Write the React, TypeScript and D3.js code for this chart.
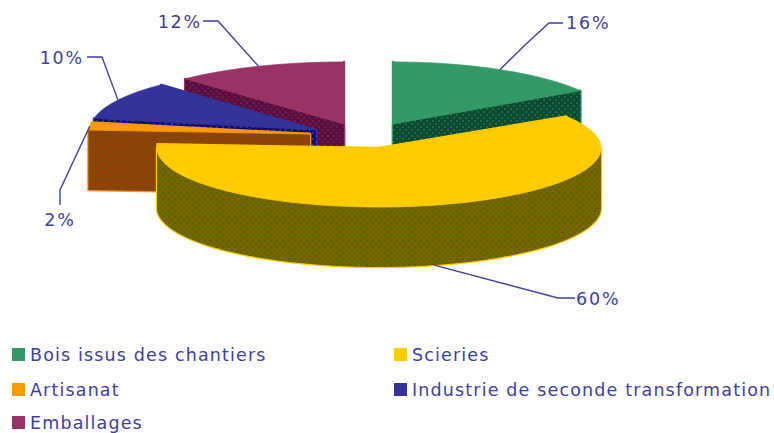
import React from "react";
import * as d3 from "d3";

// Share of each wood source, clockwise from twelve o'clock.
const categories = ["Bois issus des chantiers", "Scieries", "Artisanat", "Industrie de seconde transformation", "Emballages"];
const shares = [16, 60, 2, 10, 12];
const colors = ["#339966", "#ffcc00", "#ff9900", "#333399", "#993366"];
const wallBase = ["#0c4a30", "#7a6400", "#83470a", "#0c0c70", "#561040"];
const wallDots = ["#1f6a48", "#4f6800", "#a83a08", "#2e2ea0", "#7c1650"];

// Exploded position of each wedge's tip, and its horizontal radius.
const tipX = [393, 379, 310, 316, 344];
const tipY = [124, 148, 134, 130, 124];
const radiusX = [222, 222, 222, 226, 232];
const radiusY = [62, 59, 62, 62, 62];
const DEPTH = 60;

// Leader line elbows per wedge, in the same order as the shares.
const leaderMid = [[525, 45], [558, 298], [60, 190], [102, 57], [218, 21]];
const leaderEnd = [[549, 23], [575, 298], [60, 205], [87, 57], [203, 21]];
const leaderTail = [[563, 23], [575, 298], [60, 205], [87, 57], [203, 21]];
const labelPos: [number, number, string][] = [[566, 29, "start"], [576, 305, "start"], [60, 226, "middle"], [84, 64, "end"], [202, 28, "end"]];

const legendX = [12, 394];
const legendY = [348, 383, 416];

const ink = "#4040a2";
const fontFamily = "'DejaVu Sans', Verdana, sans-serif";

const angles = d3.pie<number>().sort(null)(shares);

const pointOn = (i: number, a: number, lift = 0): [number, number] => [
  tipX[i] + radiusX[i] * Math.sin(a),
  tipY[i] - radiusY[i] * Math.cos(a) + lift,
];

const arcLine = (i: number, a0: number, a1: number, lift = 0) =>
  d3.range(0, 121).map((k) => pointOn(i, a0 + ((a1 - a0) * k) / 120, lift));

const poly = d3.line();

// Top face of a wedge.
const topPath = (i: number) => {
  const { startAngle, endAngle } = angles[i];
  return poly([[tipX[i], tipY[i]], ...arcLine(i, startAngle, endAngle)]) + "Z";
};

// Visible side of a wedge: the outer rim where it faces forward, plus the cut faces.
const wallPaths = (i: number) => {
  const { startAngle, endAngle } = angles[i];
  const out: string[] = [];
  const tip: [number, number] = [tipX[i], tipY[i]];
  const flat = (a: [number, number]): [number, number] => [a[0], a[1] + DEPTH];
  const start = pointOn(i, startAngle);
  const end = pointOn(i, endAngle);
  // Cut faces, back to front.
  out.push(poly([tip, start, flat(start), flat(tip)]) + "Z");
  out.push(poly([tip, end, flat(end), flat(tip)]) + "Z");
  // Rim between the widest points of the ellipse, on the near half only.
  const a0 = Math.max(startAngle, Math.PI / 2);
  const a1 = Math.min(endAngle, (3 * Math.PI) / 2);
  if (a1 > a0) {
    const upper = arcLine(i, a0, a1);
    const lower = arcLine(i, a0, a1, DEPTH).reverse();
    out.push(poly([...upper, ...lower]) + "Z");
  }
  return out;
};

// Wedges are painted back to front so the nearer ones cover the others.
const paintOrder = [4, 3, 2, 0, 1];

export default function App() {
  return (
    <svg
      width={774}
      height={433}
      viewBox="0 0 774 433"
      style={{ position: "absolute", left: 0, top: 0, background: "#fff" }}
      fontFamily={fontFamily}
    >
      <defs>
        {colors.map((_, i) => (
          <pattern key={i} id={`wall-${i}`} width={6} height={6} patternUnits="userSpaceOnUse">
            <rect width={6} height={6} fill={wallBase[i]} />
            <rect x={0} y={0} width={2} height={2} fill={wallDots[i]} />
            <rect x={3} y={3} width={2} height={2} fill={wallDots[i]} />
          </pattern>
        ))}
      </defs>

      {paintOrder.map((i) => (
        <g key={i}>
          {wallPaths(i).map((d, k) => (
            <path key={k} d={d} fill={colors[i]} stroke={colors[i]} strokeWidth={2.4} strokeLinejoin="round" />
          ))}
          {wallPaths(i).map((d, k) => (
            <path key={k} d={d} fill={`url(#wall-${i})`} />
          ))}
          <path d={topPath(i)} fill={colors[i]} stroke={colors[i]} strokeWidth={0.8} />
        </g>
      ))}

      {shares.map((share, i) => {
        const mid = (angles[i].startAngle + angles[i].endAngle) / 2;
        const onNearSide = Math.cos(mid) < 0;
        const from = pointOn(i, mid, onNearSide ? DEPTH : 0);
        return (
          <g key={categories[i]}>
            <path
              d={poly([from, leaderMid[i] as [number, number], leaderEnd[i] as [number, number], leaderTail[i] as [number, number]]) ?? ""}
              fill="none"
              stroke={ink}
              strokeWidth={1.4}
            />
            <text
              x={labelPos[i][0]}
              y={labelPos[i][1]}
              textAnchor={labelPos[i][2] as "start" | "end" | "middle"}
              fontSize={17.5}
              letterSpacing={1.8}
              fill={ink}
            >
              {share}%
            </text>
          </g>
        );
      })}

      {categories.map((name, i) => {
        const x = legendX[i % 2];
        const y = legendY[Math.floor(i / 2)];
        return (
          <g key={name}>
            <rect x={x} y={y} width={13} height={13} fill={colors[i]} />
            <text x={x + 18} y={y + 13} fontSize={17.5} fill={ink} letterSpacing={1.15}>
              {name}
            </text>
          </g>
        );
      })}
    </svg>
  );
}
